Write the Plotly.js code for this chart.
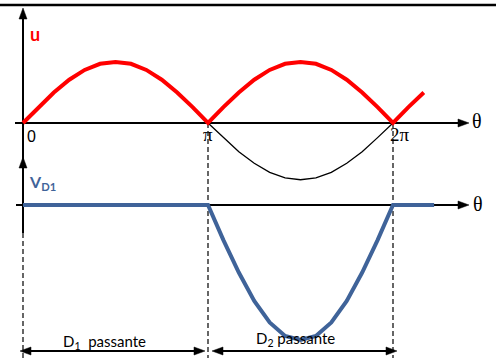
<!DOCTYPE html>
<html>
<head>
<meta charset="utf-8">
<script src="https://cdn.plot.ly/plotly-3.0.1.min.js"></script>
<style>html,body{margin:0;padding:0;background:#fff}#chart{width:496px;height:358px}</style>
</head>
<body>
<div id="chart"></div>
<script>
// ---- data (angles in degrees) ----
const thetaU = [0,15,30,45,60,75,90,105,120,135,150,165,180,195,210,225,240,255,270,285,300,315,330,345,360,375,390];
const uValues = [0,0.26,0.5,0.71,0.87,0.97,1,0.97,0.87,0.71,0.5,0.26,0,0.26,0.5,0.71,0.87,0.97,1,0.97,0.87,0.71,0.5,0.26,0,0.26,0.5];
const thetaNeg = [180,195,210,225,240,255,270,285,300,315,330,345,360];
const negValues = [0,-0.24,-0.47,-0.66,-0.81,-0.9,-0.93,-0.9,-0.81,-0.66,-0.47,-0.24,0];
const thetaVD1 = [0,180,195,210,225,240,255,270,285,300,315,330,345,360,400];
const vD1Values = [0,0,-0.26,-0.5,-0.71,-0.87,-0.97,-1,-0.97,-0.87,-0.71,-0.5,-0.26,0,0];
const tickAngles = [0,180,360];
const tickLabels = ['0','π','2π'];

// ---- layout helpers (pixel -> paper) ----
const W = 496, H = 358;
const px = v => v / W;
const py = v => 1 - v / H;
const P = (x, y) => px(x) + ',' + py(y);

const traces = [
  {x: thetaNeg, y: negValues, xaxis:'x', yaxis:'y', mode:'lines', line:{color:'#000', width:1.3}, hoverinfo:'skip'},
  {x: thetaU, y: uValues, xaxis:'x', yaxis:'y', mode:'lines', line:{color:'#ff0000', width:4}, hoverinfo:'skip'},
  {x: thetaVD1, y: vD1Values, xaxis:'x', yaxis:'y2', mode:'lines', line:{color:'#3f6399', width:4}, hoverinfo:'skip'}
];

function seg(x0, y0, x1, y1, w, dash) {
  return {type:'line', layer:'below', xref:'paper', yref:'paper', x0:px(x0), x1:px(x1), y0:py(y0), y1:py(y1), line:{color:'#000', width:w, dash:dash || 'solid'}};
}
function head(tx, ty, dir) {
  let pts;
  if (dir === 'up') pts = [[tx,ty],[tx-4,ty+11],[tx+4,ty+11]];
  else if (dir === 'right') pts = [[tx,ty],[tx-11,ty-4],[tx-11,ty+4]];
  else pts = [[tx,ty],[tx+11,ty-4],[tx+11,ty+4]];
  return {type:'path', layer:'above', xref:'paper', yref:'paper', path:'M' + pts.map(p => P(p[0], p[1])).join(' L') + ' Z', fillcolor:'#000', line:{color:'#000', width:0.5}};
}

const shapes = [
  seg(0, 5, 496, 5, 2.5),
  seg(23, 12, 23, 233, 2),
  seg(15, 123, 462, 123, 2),
  seg(16, 205, 462, 205, 2),
  head(23, 8, 'up'), head(23, 157, 'up'),
  head(469, 123, 'right'), head(469, 205, 'right'),
  seg(23, 233, 23, 358, 1.2, '5px,3px'),
  seg(208, 123, 208, 358, 1.2, '5px,3px'),
  seg(393, 123, 393, 358, 1.2, '5px,3px'),
  seg(24, 351, 200, 351, 2), head(20, 351, 'left'), head(205, 351, 'right'),
  seg(216, 351, 393, 351, 2), head(212, 351, 'left'), head(397, 351, 'right')
];

const T = (text, x, y, font, extra) => Object.assign({text:text, x:x, y:y, xref:'paper', yref:'paper', xanchor:'center', yanchor:'middle', showarrow:false, font:font}, extra || {});
const sans = (size, color) => ({family:'Lato, Open Sans, sans-serif', size:size, color:color || '#000'});
const serif = (size) => ({family:'Liberation Serif, serif', size:size, color:'#000'});

const annotations = [
  T('<b>u</b>', px(35), py(34), sans(18, '#ff0000')),
  T('<b>V<sub>D1</sub></b>', px(27), py(182), sans(16, '#3f6399'), {xanchor:'left'}),
  T('θ', px(477), py(121), serif(20)),
  T('θ', px(478), py(204), serif(20)),
  T(tickLabels[0], tickAngles[0], py(136), {family:'Liberation Sans, Arial, sans-serif', size:16, color:'#000'}, {xref:'x', xshift:8}),
  T(tickLabels[1], tickAngles[1], py(134), serif(19), {xref:'x'}),
  T(tickLabels[2], tickAngles[2], py(134), serif(19), {xref:'x', xshift:7}),
  T('D<sub>1</sub>  passante', px(104), py(342), sans(15)),
  T('D<sub>2</sub> passante', px(295), py(339), sans(15))
];

const layout = {
  width: W, height: H,
  margin:{l:0, r:0, t:0, b:0, pad:0},
  paper_bgcolor:'#fff', plot_bgcolor:'rgba(0,0,0,0)',
  showlegend:false,
  xaxis:{range:[-23*180/185, 473*180/185], visible:false, fixedrange:true},
  yaxis:{range:[-(358-123)/61, 123/61], visible:false, fixedrange:true},
  yaxis2:{range:[-(358-205)/135, 205/135], overlaying:'y', visible:false, fixedrange:true},
  shapes: shapes,
  annotations: annotations
};

Plotly.newPlot('chart', traces, layout, {staticPlot:true, displayModeBar:false});
</script>
</body>
</html>
